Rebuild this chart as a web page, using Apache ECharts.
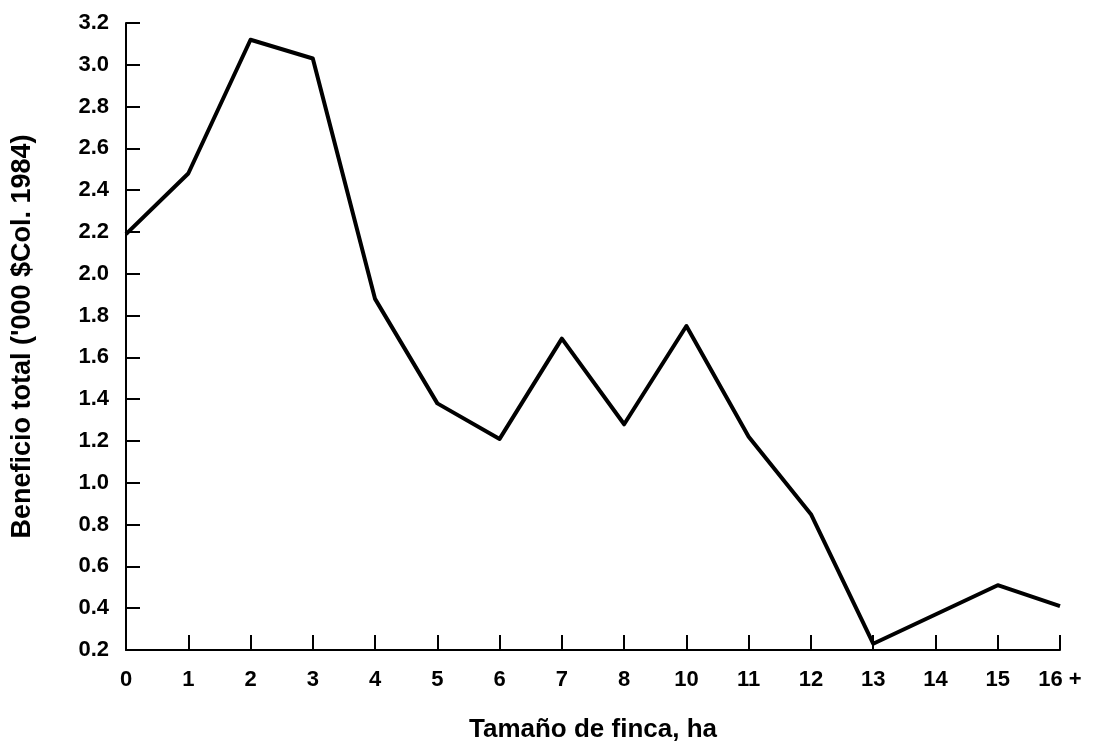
<!DOCTYPE html>
<html>
<head>
<meta charset="utf-8">
<script src="https://cdn.jsdelivr.net/npm/echarts@6/dist/echarts.min.js"></script>
<style>
html,body{margin:0;padding:0;background:#fff;}
#chart{width:1100px;height:752px;}
</style>
</head>
<body>
<div id="chart"></div>
<script>
const categories = ['0','1','2','3','4','5','6','7','8','10','11','12','13','14','15','16 +'];
const beneficio = [2.19, 2.48, 3.12, 3.03, 1.88, 1.38, 1.21, 1.69, 1.28, 1.75, 1.22, 0.85, 0.23, 0.37, 0.51, 0.41];
const xTitle = 'Tamaño de finca, ha';
const yTitle = "Beneficio total ('000 $Col. 1984)";

const FONT = "'Liberation Sans', Arial, Helvetica, sans-serif";
const chart = echarts.init(document.getElementById('chart'), null, {renderer: 'canvas'});
chart.setOption({
  backgroundColor: '#ffffff',
  animation: false,
  grid: {left: 126, right: 40, top: 23, bottom: 102, containLabel: false},
  xAxis: {
    type: 'category',
    data: categories,
    boundaryGap: false,
    name: xTitle,
    nameLocation: 'middle',
    nameGap: 67,
    nameTextStyle: {fontFamily: FONT, fontWeight: 'bold', fontSize: 26, color: '#000'},
    axisLine: {show: true, lineStyle: {color: '#000', width: 2}},
    axisTick: {show: true, inside: true, length: 15, lineStyle: {color: '#000', width: 2}},
    axisLabel: {fontFamily: FONT, fontWeight: 'bold', fontSize: 22, color: '#000', margin: 19},
    splitLine: {show: false}
  },
  yAxis: {
    type: 'value',
    min: 0.2,
    max: 3.2,
    interval: 0.2,
    name: yTitle,
    nameLocation: 'middle',
    nameGap: 90,
    nameTextStyle: {fontFamily: FONT, fontWeight: 'bold', fontSize: 27, color: '#000'},
    axisLine: {show: true, lineStyle: {color: '#000', width: 2}},
    axisTick: {show: true, inside: true, length: 14, lineStyle: {color: '#000', width: 2}},
    axisLabel: {fontFamily: FONT, fontWeight: 'bold', fontSize: 22, color: '#000', margin: 17,
      formatter: v => v.toFixed(1)},
    splitLine: {show: false}
  },
  series: [{
    type: 'line',
    data: beneficio,
    symbol: 'none',
    lineStyle: {color: '#000', width: 4, join: 'round'},
    itemStyle: {color: '#000'}
  }]
});
</script>
</body>
</html>
